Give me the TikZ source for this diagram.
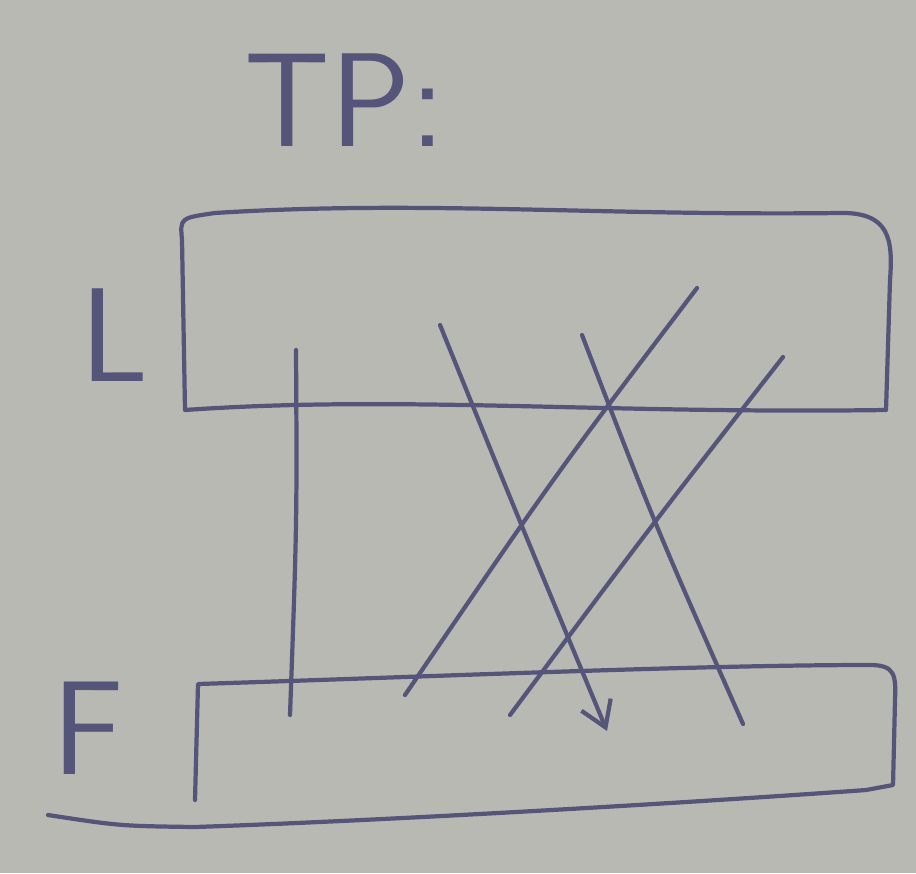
\documentclass[tikz,border=0pt]{standalone}
\usepackage{tikz}
\usepackage{xcolor}
\usetikzlibrary{arrows.meta,positioning}
\definecolor{paper}{HTML}{B9B9B3}
\definecolor{ink}{HTML}{55557A}
\tikzset{
  pen/.style={draw=ink, line width=1.2pt, line cap=round, line join=round},
  letter/.style={text=ink, inner sep=0pt, font=\sffamily\fontsize{38}{38}\selectfont},
  barb/.style={-{Straight Barb[length=7pt,width=9pt]}}
}

\begin{document}
\begin{tikzpicture}[x=0.01cm,y=-0.01cm]
  \fill[paper] (0,0) rectangle (916,873);
  \useasboundingbox (0,0) rectangle (916,873);
  % labels
  \node[letter] (tp) at (345,100) {TP:};
  \node[letter] (lab-l) at (115,335) {L};
  \node[letter] (lab-f) at (88,728) {F};
  % top box
  \draw[pen] (182,240) .. controls (180,218) .. (215,213)
    .. controls (420,200) and (600,216) .. (840,213)
    .. controls (890,212) and (893,240) .. (890,280)
    -- (886,410) .. controls (600,414) and (400,395) .. (185,410) -- cycle;
  % bottom box
  \draw[pen] (195,800) -- (198,684) .. controls (450,676) and (700,665) .. (870,665)
    .. controls (895,665) and (896,675) .. (895,700) -- (893,785) -- (866,790)
    .. controls (700,802) and (400,820) .. (195,827) .. controls (120,826) .. (48,815);
  % end points
  \coordinate (a1) at (296,350);
  \coordinate (a2) at (290,715);
  \coordinate (b1) at (440,325);
  \coordinate (b2) at (607,731);
  \coordinate (c1) at (697,288);
  \coordinate (c2) at (405,695);
  \coordinate (d1) at (582,335);
  \coordinate (d2) at (743,724);
  \coordinate (e1) at (783,357);
  \coordinate (e2) at (510,715);
  % strokes
  \draw[pen] (a1) .. controls (297,520) .. (a2);
  \draw[pen,barb] (b1) .. controls (515,510) .. (b2);
  \draw[pen] (c1) .. controls (555,475) .. (c2);
  \draw[pen] (d1) .. controls (655,525) .. (d2);
  \draw[pen] (e1) .. controls (648,530) .. (e2);
\end{tikzpicture}
\end{document}
